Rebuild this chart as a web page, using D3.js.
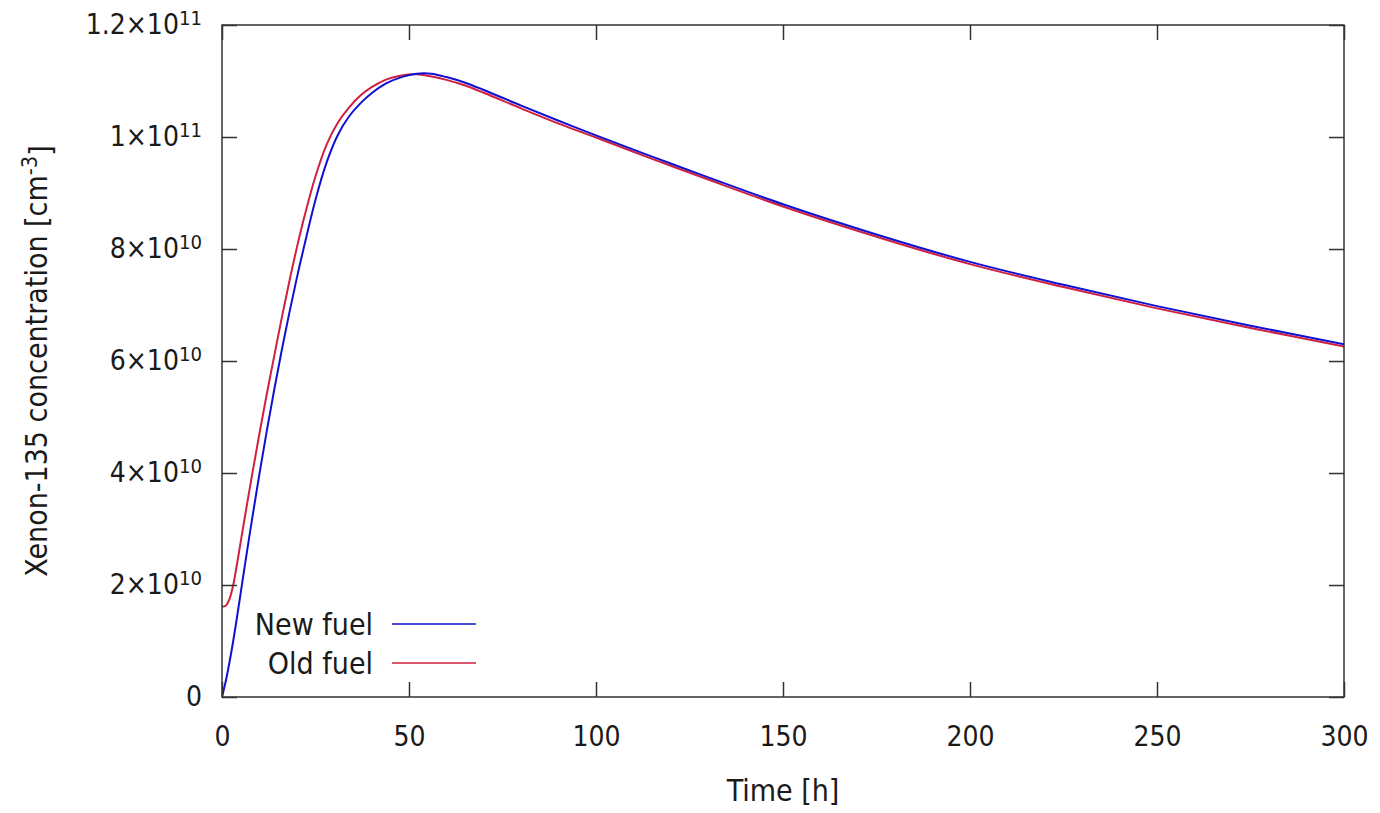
<!DOCTYPE html>
<html>
<head>
<meta charset="utf-8">
<script src="https://cdn.jsdelivr.net/npm/d3@7"></script>
<style>
  body { margin: 0; background: #fff; }
  svg text { font-family: Tahoma, "DejaVu Sans Condensed", "DejaVu Sans", sans-serif; fill: #1a1a1a; }
</style>
</head>
<body>
<div id="wrapper"></div>
<script>
// time in hours, concentrations in units of 1e10 cm^-3
const hours = [0, 1, 2, 3, 4, 5, 6, 8, 10, 12, 14, 16, 18, 20, 22, 25, 28, 31, 34, 37, 40, 44, 48, 52, 56, 60, 65, 70, 80, 90, 100, 115, 130, 150, 175, 200, 225, 250, 275, 300];

const newFuel = [0, 0.28, 0.62, 1.0, 1.42, 1.86, 2.3, 3.16, 3.98, 4.76, 5.5, 6.2, 6.86, 7.48, 8.06, 8.88, 9.55, 10.04, 10.37, 10.6, 10.78, 10.96, 11.07, 11.13, 11.13, 11.07, 10.97, 10.84, 10.56, 10.29, 10.03, 9.65, 9.28, 8.8, 8.26, 7.77, 7.36, 6.98, 6.63, 6.3];

const oldFuel = [1.61, 1.63, 1.75, 2.0, 2.37, 2.77, 3.17, 3.95, 4.7, 5.42, 6.1, 6.78, 7.42, 8.02, 8.57, 9.3, 9.87, 10.26, 10.53, 10.74, 10.89, 11.03, 11.1, 11.12, 11.08, 11.02, 10.92, 10.79, 10.51, 10.24, 9.99, 9.61, 9.24, 8.76, 8.22, 7.73, 7.32, 6.94, 6.59, 6.26];

const seriesNames = ["New fuel", "Old fuel"];
const seriesColors = ["#1010d0", "#d0203f"];

const xTicks = [0, 50, 100, 150, 200, 250, 300];
const yTicks = [0, 2e10, 4e10, 6e10, 8e10, 1e11, 1.2e11];
const yTickMantissa = ["0", "2", "4", "6", "8", "1", "1.2"];
const yTickExponent = ["", "10", "10", "10", "10", "11", "11"];

const xLabel = "Time [h]";
const yLabel = "Xenon-135 concentration [cm";

var dimension = {
    width: 1380,
    height: 813,
    margin: { top: 25, left: 222, bottom: 116, right: 36 }
};
dimension.boundedWidth = dimension.width - dimension.margin.left - dimension.margin.right;
dimension.boundedHeight = dimension.height - dimension.margin.top - dimension.margin.bottom;

const fontSize = 28;
const labelSize = 30;

const svg = d3.select("#wrapper").append("svg")
    .attr("width", dimension.width)
    .attr("height", dimension.height);

const bounded = svg.append("g")
    .attr("transform", `translate(${dimension.margin.left},${dimension.margin.top})`);

const xScaler = d3.scaleLinear().domain([0, 300]).range([0, dimension.boundedWidth]);
const yScaler = d3.scaleLinear().domain([0, 1.2e11]).range([dimension.boundedHeight, 0]);

// clip for curves
svg.append("defs").append("clipPath").attr("id", "clip")
    .append("rect").attr("width", dimension.boundedWidth).attr("height", dimension.boundedHeight);

const series = [newFuel, oldFuel];

const lineGenerator = d3.line()
    .x((d, i) => xScaler(hours[i]))
    .y(d => yScaler(d * 1e10))
    .curve(d3.curveCatmullRom.alpha(0.5));

// old fuel drawn first so new fuel sits on top
[1, 0].forEach(k => {
    bounded.append("path")
        .attr("clip-path", "url(#clip)")
        .attr("d", lineGenerator(series[k]))
        .attr("fill", "none")
        .attr("stroke", seriesColors[k])
        .attr("stroke-width", 2);
});

// axes, gnuplot style: ticks inward on all four sides
function styleAxis(g) {
    g.select(".domain").remove();
    g.selectAll(".tick line").attr("stroke", "#333").attr("stroke-width", 1.5);
    g.selectAll(".tick text").attr("font-size", fontSize).attr("fill", "#1a1a1a");
}

bounded.append("g")
    .attr("transform", `translate(0,${dimension.boundedHeight})`)
    .call(d3.axisBottom(xScaler).tickValues(xTicks).tickSizeInner(-15).tickSizeOuter(0).tickPadding(29))
    .call(styleAxis);

bounded.append("g")
    .call(d3.axisTop(xScaler).tickValues(xTicks).tickSizeInner(-15).tickSizeOuter(0).tickFormat(""))
    .call(styleAxis);

const yAxis = bounded.append("g")
    .call(d3.axisLeft(yScaler).tickValues(yTicks).tickSizeInner(-15).tickSizeOuter(0).tickPadding(20))
    .call(styleAxis);

yAxis.selectAll(".tick text").each(function (d, i) {
    const t = d3.select(this).text("");
    if (yTickExponent[i] === "") {
        t.text(yTickMantissa[i]);
    } else {
        t.append("tspan").text(yTickMantissa[i] + "\u00d710");
        t.append("tspan").attr("dy", "-0.45em").attr("font-size", fontSize * 0.72).text(yTickExponent[i]);
    }
});

bounded.append("g")
    .attr("transform", `translate(${dimension.boundedWidth},0)`)
    .call(d3.axisRight(yScaler).tickValues(yTicks).tickSizeInner(-15).tickSizeOuter(0).tickFormat(""))
    .call(styleAxis);

// frame
bounded.append("rect")
    .attr("width", dimension.boundedWidth)
    .attr("height", dimension.boundedHeight)
    .attr("fill", "none")
    .attr("stroke", "#333")
    .attr("stroke-width", 1.5);

// axis labels
svg.append("text")
    .attr("x", dimension.margin.left + dimension.boundedWidth / 2)
    .attr("y", 801)
    .attr("text-anchor", "middle")
    .attr("font-size", labelSize)
    .text(xLabel);

const yl = svg.append("text")
    .attr("transform", `translate(47,${dimension.margin.top + dimension.boundedHeight / 2}) rotate(-90)`)
    .attr("text-anchor", "middle")
    .attr("font-size", labelSize);
yl.append("tspan").text(yLabel);
yl.append("tspan").attr("dy", "-0.45em").attr("font-size", labelSize * 0.72).text("-3");
yl.append("tspan").attr("dy", "0.45em").text("]");

// legend
const legend = svg.append("g");
seriesNames.forEach((name, k) => {
    const ly = 624 + k * 39;
    legend.append("text")
        .attr("x", 373)
        .attr("y", ly)
        .attr("dy", "0.36em")
        .attr("text-anchor", "end")
        .attr("font-size", labelSize)
        .text(name);
    legend.append("line")
        .attr("x1", 392).attr("x2", 476)
        .attr("y1", ly).attr("y2", ly)
        .attr("stroke", seriesColors[k])
        .attr("stroke-width", 1.5);
});
</script>
</body>
</html>
